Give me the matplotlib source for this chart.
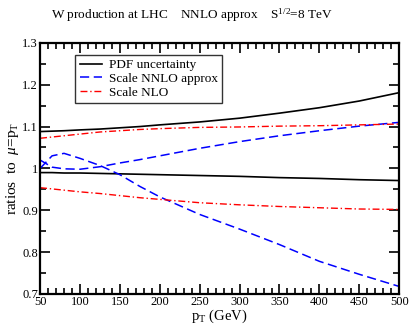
import numpy as np
import matplotlib
matplotlib.use("Agg")
import matplotlib.pyplot as plt
from matplotlib.ticker import MultipleLocator

plt.rcParams['font.family'] = ['Liberation Serif', 'DejaVu Serif']
plt.rcParams['mathtext.fontset'] = 'custom'
plt.rcParams['mathtext.rm'] = 'Liberation Serif'
plt.rcParams['mathtext.it'] = 'Liberation Serif:italic'

pt = [50, 65, 80, 100, 125, 150, 175, 200, 250, 300, 350, 400, 450, 500]

pdf_up = [1.088, 1.089, 1.090, 1.092, 1.094, 1.097, 1.100, 1.104, 1.111, 1.120, 1.132, 1.145, 1.161, 1.181]
pdf_lo = [0.990, 0.990, 0.989, 0.989, 0.988, 0.987, 0.986, 0.985, 0.983, 0.981, 0.978, 0.976, 0.973, 0.971]

nnlo_up = [1.020, 1.003, 0.999, 0.998, 1.004, 1.013, 1.021, 1.030, 1.048, 1.064, 1.078, 1.090, 1.101, 1.110]
nnlo_lo = [1.000, 1.030, 1.036, 1.024, 1.007, 0.985, 0.957, 0.932, 0.890, 0.855, 0.818, 0.778, 0.747, 0.718]

nlo_up = [1.072, 1.075, 1.078, 1.082, 1.087, 1.090, 1.093, 1.095, 1.098, 1.099, 1.101, 1.102, 1.104, 1.106]
nlo_lo = [0.954, 0.951, 0.948, 0.944, 0.940, 0.935, 0.930, 0.926, 0.918, 0.913, 0.909, 0.906, 0.903, 0.902]

fig = plt.figure(figsize=(4.09, 3.27), dpi=100)
ax = fig.add_axes([0.098, 0.101, 0.878, 0.768])

ax.plot(pt, pdf_up, color='black', lw=1.2, label='PDF uncertainty')
ax.plot(pt, pdf_lo, color='black', lw=1.2)
ax.plot(pt, nnlo_up, color='#0000ff', lw=1.1, ls=(0, (6, 3)), label='Scale NNLO approx')
ax.plot(pt, nnlo_lo, color='#0000ff', lw=1.1, ls=(0, (6, 3)))
ax.plot(pt, nlo_up, color='#ff0000', lw=1.0, ls=(0, (5, 2, 1, 2)), label='Scale NLO')
ax.plot(pt, nlo_lo, color='#ff0000', lw=1.0, ls=(0, (5, 2, 1, 2)))

ax.set_xlim(50, 500)
ax.set_ylim(0.7, 1.3)
ax.xaxis.set_major_locator(MultipleLocator(50))
ax.xaxis.set_minor_locator(MultipleLocator(10))
ax.yaxis.set_minor_locator(MultipleLocator(0.05))
ax.set_yticks([0.7, 0.8, 0.9, 1.0, 1.1, 1.2, 1.3])
ax.set_yticklabels(['0.7', '0.8', '0.9', '1', '1.1', '1.2', '1.3'])
ax.tick_params(which='both', direction='in', top=True, right=True, labelsize=9, pad=1.5)
ax.tick_params(which='major', length=7, width=1.2)
ax.tick_params(which='minor', length=4, width=1.2)
for s in ax.spines.values():
    s.set_linewidth(1.6)

ax.set_xlabel(r'p$_\mathrm{T}$ (GeV)', fontsize=10.5, labelpad=0)
ax.set_ylabel(r'ratios  to  $\mu$=p$_\mathrm{T}$', fontsize=11, labelpad=1)
fig.text(0.47, 0.954, r'W production at LHC    NNLO approx    S$^{1/2}$=8 TeV',
         ha='center', va='center', fontsize=9.5)

leg = ax.legend(loc='upper left', bbox_to_anchor=(0.097, 0.953), fontsize=9.5,
                frameon=True, fancybox=False, handlelength=1.7, borderpad=0.35,
                labelspacing=0.1, handletextpad=0.5, borderaxespad=0)
leg.get_frame().set_edgecolor('black')
leg.get_frame().set_linewidth(1.0)

fig.savefig('out.png', dpi=100)
